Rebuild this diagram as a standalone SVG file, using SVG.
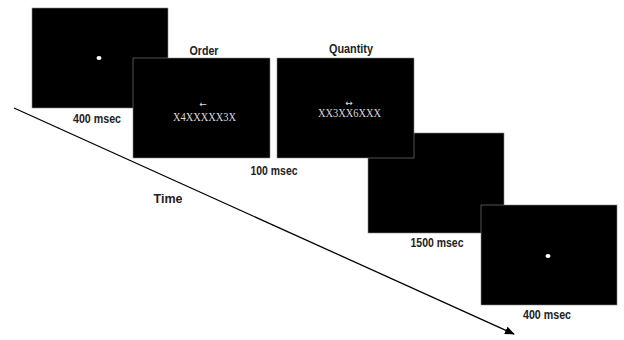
<svg xmlns="http://www.w3.org/2000/svg" width="624" height="340" viewBox="0 0 624 340">
<defs>
<style>
.scr{fill:#000;stroke:#888;stroke-width:0.6}
.lbl{font-family:"Liberation Sans",Arial,sans-serif;font-weight:bold;font-size:12px;fill:#222;text-anchor:middle}
.stim{font-family:"Liberation Serif","Times New Roman",serif;font-size:11.5px;fill:#ddd;text-anchor:middle}
.sym{font-family:"DejaVu Sans",sans-serif;font-size:9px;fill:#ddd;text-anchor:middle}
.dot{fill:#fff}
</style>
<marker id="ah" markerWidth="10" markerHeight="8" refX="9" refY="4" orient="auto" markerUnits="userSpaceOnUse">
<path d="M0,0 L10,4 L0,8 Z" fill="#000"/>
</marker>
</defs>
<rect width="624" height="340" fill="#fff"/>
<g id="connectors">
<line x1="14" y1="108" x2="514" y2="334" stroke="#000" stroke-width="1.3" marker-end="url(#ah)"/>
<text class="lbl" x="168" y="203" textLength="29" lengthAdjust="spacingAndGlyphs">Time</text>
</g>
<g id="fixation1">
<rect class="scr" x="32" y="8" width="136" height="100"/>
<ellipse class="dot" cx="99" cy="58" rx="2.5" ry="2"/>
<text class="lbl" x="97" y="123" textLength="48" lengthAdjust="spacingAndGlyphs">400 msec</text>
</g>
<g id="blank">
<rect class="scr" x="368" y="133" width="136" height="100"/>
<text class="lbl" x="437" y="247" textLength="53" lengthAdjust="spacingAndGlyphs">1500 msec</text>
</g>
<g id="order">
<rect class="scr" x="133" y="58" width="137" height="100"/>
<text class="lbl" x="204" y="55" textLength="29" lengthAdjust="spacingAndGlyphs">Order</text>
<text class="sym" x="203" y="107">←</text>
<text class="stim" x="204.5" y="121" textLength="63" lengthAdjust="spacingAndGlyphs">X4XXXXX3X</text>
<text class="lbl" x="274" y="175" textLength="47" lengthAdjust="spacingAndGlyphs">100 msec</text>
</g>
<g id="quantity">
<rect class="scr" x="277" y="58" width="137" height="100"/>
<text class="lbl" x="351" y="53" textLength="44" lengthAdjust="spacingAndGlyphs">Quantity</text>
<text class="sym" x="349" y="106">↔</text>
<text class="stim" x="349.5" y="117" textLength="63" lengthAdjust="spacingAndGlyphs">XX3XX6XXX</text>
</g>
<g id="fixation2">
<rect class="scr" x="481" y="205" width="136" height="100"/>
<ellipse class="dot" cx="548" cy="256" rx="2.5" ry="2"/>
<text class="lbl" x="547" y="319" textLength="48" lengthAdjust="spacingAndGlyphs">400 msec</text>
</g>
</svg>
